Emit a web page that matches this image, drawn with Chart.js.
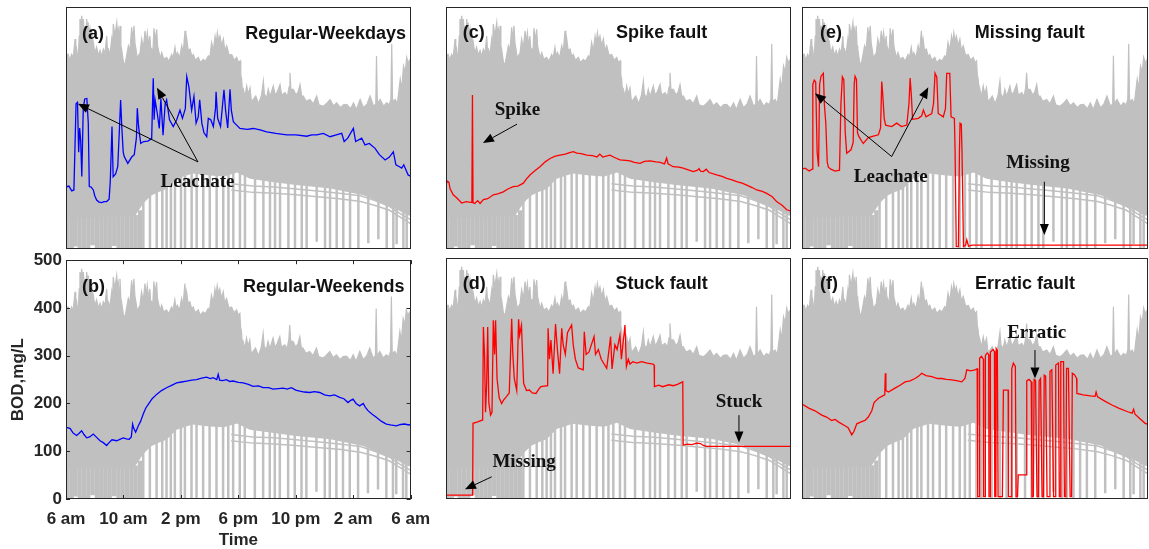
<!DOCTYPE html>
<html>
<head>
<meta charset="utf-8">
<script src="https://cdn.jsdelivr.net/npm/chart.js@4.4.1/dist/chart.umd.min.js"></script>
<style>
  body { margin: 0; background: #fff; }
  #wrap { position: relative; width: 1149px; height: 549px; overflow: hidden; background: #fff; }
  canvas { position: absolute; }
</style>
</head>
<body>
<div id="wrap"></div>
<script>
// hours after 6 am, BOD in mg/L
const timeLabels = ["6 am", "10 am", "2 pm", "6 pm", "10 pm", "2 am", "6 am"];

// grey cloud of all the historical days: top edge, bottom edge, loose low lines, drop-outs
const cloudTop = [[0,398],[0.08,402],[0.16,402],[0.25,390],[0.39,402],[0.5,395],[0.63,434],[0.68,405],[0.74,413],
  [0.8,395],[0.86,402],[0.92,440],[0.97,475],[1.03,460],[1.09,482],[1.15,462],[1.21,475],[1.27,445],[1.32,461],
  [1.38,440],[1.44,475],[1.5,450],[1.55,468],[1.61,440],[1.67,454],[1.73,430],[1.79,451],[1.85,420],[1.9,427],
  [2,405],[2.13,417],[2.25,400],[2.37,410],[2.48,398],[2.6,413],[2.72,405],[2.83,440],[2.89,410],[2.95,413],[3.05,400],
  [3.18,434],[3.24,415],[3.29,465],[3.4,440],[3.53,468],[3.58,445],[3.64,454],[3.7,430],[3.76,461],[3.82,420],
  [3.87,413],[4,385],[4.11,382],[4.22,400],[4.34,420],[4.45,410],[4.57,458],[4.65,430],[4.73,461],[4.8,425],[4.87,413],
  [4.95,395],[5.03,399],[5.15,405],[5.26,434],[5.38,415],[5.5,451],[5.58,425],[5.66,447],[5.75,420],[5.84,440],
  [5.9,410],[5.96,413],[6.04,405],[6.12,456],[6.2,430],[6.31,454],[6.37,420],[6.42,413],[6.55,395],[6.66,406],
  [6.8,392],[7,396],[7.15,388],[7.35,402],[7.45,395],[7.58,417],[7.66,398],[7.75,406],[7.9,395],[8.05,420],[8.15,405],
  [8.28,451],[8.34,420],[8.4,434],[8.5,410],[8.63,413],[8.75,398],[8.86,402],[9,390],[9.21,396],[9.35,385],[9.55,392],
  [9.7,388],[9.9,399],[10,395],[10.13,427],[10.25,410],[10.37,440],[10.45,425],[10.53,447],[10.62,430],[10.71,440],
  [10.83,420],[10.95,434],[11.05,410],[11.18,420],[11.35,400],[11.53,402],[11.7,390],[11.88,396],[12,385],[12.11,389],
  [12.16,360],[12.22,351],[12.28,325],[12.34,330],[12.45,315],[12.57,337],[12.68,320],[12.8,333],[12.9,305],
  [13.03,309],[13.2,316],[13.4,300],[13.6,318],[13.73,347],[13.8,320],[13.95,312],[14.07,330],[14.2,315],[14.42,337],
  [14.55,318],[14.7,325],[14.89,340],[15,318],[15.24,323],[15.4,315],[15.52,335],[15.58,364],[15.65,330],[15.82,330],
  [16,318],[16.15,325],[16.28,340],[16.4,315],[16.51,316],[16.7,305],[16.97,309],[17.2,300],[17.44,316],[17.6,298],
  [17.9,295],[18.1,300],[18.37,309],[18.6,296],[18.83,302],[19.1,292],[19.3,298],[19.53,299],[19.8,290],[20,302],
  [20.2,288],[20.46,309],[20.7,292],[20.95,300],[21.15,316],[21.4,295],[21.55,300],[21.6,399],[21.66,300],[21.85,309],
  [22.1,295],[22.3,302],[22.5,298],[22.6,310],[22.66,424],[22.72,305],[22.9,309],[23.05,300],[23.25,351],[23.35,330],
  [23.48,378],[23.6,365],[23.7,396],[23.8,385],[23.95,392],[24,390]];
const cloudLow = [[0,64],[4.8,68],[5.4,95],[5.9,110],[6.4,117],[7,124],[7.7,145],[8.8,156],[10,152],[11,150],
  [11.9,158],[12.8,145],[14.2,139],[16,132],[18.4,125],[20.7,111],[22.3,90],[23,82],[23.7,70],[24,68]];
const lowLineA = [[11.5,135],[13,130],[14.5,128],[16,124],[17.5,120],[19,115],[20.5,110],[21.5,100],[22.5,88],[23.3,72],[24,60]];
const lowLineB = [[11.5,122],[13,117],[14.5,115],[16,112],[17.5,108],[19,104],[20.5,98],[21.5,90],[22.5,80],[23.3,65],[24,52]];
// [hour, top, bottom] of the sensor drop-outs, dense ones in the early morning
const dropsEarly = [[0.1,70,0],[0.4,70,0],[0.65,70,5],[0.95,70,0],[1.25,70,0],[1.55,70,0],[1.85,70,8],[2.15,70,0],
  [2.45,70,0],[2.75,70,0],[3.05,70,0],[3.35,70,6],[3.65,70,0],[3.95,70,0],[4.25,70,0],[4.55,70,0],[4.85,70,0],
  [5.15,80,0]];
const dropsLate = [[5.38,100,0],[5.84,112,0],[6.31,120,0],[6.7,122,0],[7,128,0],[7.3,135,0],[7.58,145,0],[8,150,0],
  [8.28,152,0],[8.74,158,0],[9.09,156,0],[9.55,155,0],[10,155,0],[10.48,153,0],[10.94,152,0],[11.3,155,0],
  [11.64,160,0],[12.1,160,0],[12.45,152,0],[13.15,148,0],[13.73,145,0],[14.19,142,0],[14.54,140,0],[14.89,140,0],
  [15.47,136,0],[15.93,135,0],[16.4,133,0],[16.74,132,0],[17.44,130,15],[18.02,128,0],[18.37,128,0],[18.83,125,0],
  [19.29,122,0],[19.76,118,0],[20.34,115,0],[21.03,110,12],[21.73,100,20],[22.31,93,0],[22.77,88,0],[23,85,10],
  [23.47,78,0],[23.7,72,0]];

// (a) regular weekday with leachate peaks
const weekdays = [[0,128],[0.2,130],[0.4,120],[0.55,122],[0.7,300],[0.8,303],[0.88,200],[0.95,250],[1.02,225],[1.1,150],
  [1.2,290],[1.3,310],[1.45,311],[1.55,260],[1.62,129],[1.75,128],[1.9,122],[2,110],[2.13,101],[2.3,97],[2.48,96],
  [2.65,98],[2.83,98],[3,103],[3.08,140],[3.2,253],[3.28,149],[3.45,155],[3.6,170],[3.72,250],[3.8,308],[3.88,253],
  [3.98,200],[4.05,191],[4.3,177],[4.57,190],[4.75,195],[4.9,230],[4.96,291],[5.03,260],[5.1,240],[5.2,218],[5.4,222],
  [5.7,223],[5.96,228],[6.02,300],[6.07,353],[6.13,267],[6.2,308],[6.35,280],[6.49,249],[6.6,311],[6.75,235],[6.9,300],
  [7,308],[7.2,267],[7.46,253],[7.7,267],[7.93,287],[8.1,270],[8.3,290],[8.4,356],[8.55,335],[8.74,287],[8.9,315],
  [9.05,260],[9.2,273],[9.3,308],[9.45,260],[9.6,240],[9.79,232],[9.9,270],[10.07,267],[10.25,253],[10.4,290],
  [10.44,325],[10.55,270],[10.75,253],[10.99,329],[11.1,287],[11.25,250],[11.41,330],[11.5,287],[11.64,263],
  [11.8,258],[12.1,249],[12.6,247],[13.03,249],[13.5,246],[13.96,242],[14.6,239],[15.35,236],[16,236],[16.74,233],
  [17.1,236],[17.44,236],[17.9,239],[18.37,232],[18.8,236],[19.18,239],[19.35,222],[19.6,229],[19.99,249],[20.15,222],
  [20.57,229],[20.8,215],[21.1,218],[21.5,208],[21.8,195],[22.2,184],[22.5,190],[22.77,201],[22.95,174],[23.2,170],
  [23.35,167],[23.5,174],[23.8,153],[24,150]];

// (b) regular weekend
const weekends = [[0,150],[0.28,148],[0.5,138],[0.74,133],[0.9,137],[1.09,143],[1.25,135],[1.44,128],[1.65,130],[1.9,136],
  [2.1,130],[2.37,122],[2.6,118],[2.83,112],[3,118],[3.2,124],[3.53,122],[3.75,125],[3.99,128],[4.2,126],[4.4,125],
  [4.55,130],[4.64,157],[4.72,148],[4.85,140],[5.03,153],[5.2,163],[5.38,178],[5.55,190],[5.73,198],[6,210],[6.31,219],
  [6.65,227],[7,233],[7.35,238],[7.7,243],[8.05,245],[8.4,247],[8.75,249],[9.09,250],[9.45,253],[9.79,255],[10.05,252],
  [10.25,254],[10.5,250],[10.6,261],[10.7,249],[10.9,248],[11.18,250],[11.4,246],[11.64,247],[12,244],[12.34,243],
  [12.7,240],[13.03,236],[13.4,237],[13.73,233],[14.1,233],[14.42,230],[14.8,231],[15.12,232],[15.4,230],[15.7,233],
  [16,228],[16.28,226],[16.6,224],[16.97,223],[17.3,225],[17.67,223],[18,218],[18.37,216],[18.7,218],[19.06,213],
  [19.35,210],[19.64,202],[19.8,206],[19.99,209],[20.2,200],[20.45,195],[20.7,200],[20.85,192],[21.03,185],[21.3,178],
  [21.61,171],[21.95,163],[22.31,157],[22.6,155],[23,153],[23.3,156],[23.58,157],[23.88,155],[24,156]];

// (c) spike fault
const spikeFault = [[0,133],[0.1,140],[0.2,138],[0.28,125],[0.5,112],[0.74,106],[1.09,95],[1.4,98],[1.8,96],[1.84,318],
  [1.88,96],[2,94],[2.2,100],[2.37,94],[2.6,102],[2.9,104],[3.29,112],[3.6,114],[3.99,118],[4.3,124],[4.68,129],[5,130],
  [5.38,136],[5.6,145],[5.84,153],[6.2,162],[6.54,170],[6.9,180],[7.24,187],[7.6,192],[7.93,194],[8.3,196],[8.6,199],
  [8.86,201],[9.1,198],[9.4,197],[9.79,194],[10.2,193],[10.5,190],[10.7,196],[10.9,190],[11.4,194],[11.8,188],
  [12.1,184],[12.5,183],[12.8,182],[13.1,179],[13.5,177],[13.8,181],[14.2,182],[14.6,180],[14.9,179],[15.2,176],
  [15.35,188],[15.45,176],[15.8,170],[16.2,169],[16.5,167],[16.9,163],[17.2,160],[17.5,163],[17.6,166],[17.7,161],
  [17.9,160],[18.1,165],[18.3,158],[18.83,153],[19.2,150],[19.53,146],[19.9,143],[20.22,139],[20.6,136],[20.92,132],
  [21.3,127],[21.62,122],[22,119],[22.31,115],[22.7,108],[23,98],[23.4,90],[23.7,81],[24,78]];

// (d) missing at start, then stuck at the end
const stuckFault = [[0,8],[1.85,8],[1.88,157],[2.2,160],[2.55,164],[2.6,357],[2.68,300],[2.75,180],[2.83,240],[2.9,357],
  [2.98,200],[3.1,174],[3.2,180],[3.29,371],[3.38,300],[3.45,371],[3.55,250],[3.7,210],[3.87,198],[4,205],[4.22,213],
  [4.4,220],[4.57,374],[4.65,300],[4.75,250],[4.92,225],[5.05,373],[5.12,340],[5.25,360],[5.4,240],[5.6,225],[5.8,226],
  [6,220],[6.26,219],[6.45,228],[6.6,233],[7.07,235],[7.1,354],[7.2,290],[7.3,330],[7.45,260],[7.62,363],[7.75,310],
  [7.9,260],[8.05,354],[8.15,320],[8.3,300],[8.45,345],[8.74,361],[8.85,320],[9,290],[9.2,272],[9.55,268],[9.62,347],
  [9.75,300],[9.95,305],[10.3,337],[10.4,300],[10.6,310],[10.8,290],[11.18,271],[11.3,300],[11.45,337],[11.55,270],
  [11.75,320],[11.9,310],[12.1,340],[12.2,290],[12.45,361],[12.55,275],[12.68,290],[12.8,280],[13,285],[13.27,282],
  [13.6,285],[14,282],[14.4,280],[14.48,278],[14.5,233],[14.8,236],[15.07,233],[15.5,237],[15.8,235],[16.1,238],
  [16.47,243],[16.5,112],[16.8,114],[17.1,113],[17.44,116],[17.7,115],[17.9,111],[18.14,109],[24,109]];

// (e) leachate then missing
const missingFault = [[0,165],[0.21,167],[0.5,161],[0.7,165],[0.75,340],[0.85,349],[0.95,345],[1.05,200],[1.15,170],
  [1.22,340],[1.32,357],[1.48,363],[1.55,300],[1.65,260],[1.75,180],[1.83,169],[2,165],[2.29,161],[2.6,163],[2.7,300],
  [2.8,356],[2.9,350],[3,240],[3.1,198],[3.4,205],[3.55,220],[3.62,340],[3.68,357],[3.78,350],[3.85,240],[3.95,232],
  [4.25,218],[4.6,230],[4.95,233],[5.3,236],[5.45,250],[5.53,346],[5.6,320],[5.7,270],[5.8,256],[6.22,253],[6.57,260],
  [6.9,253],[7.27,256],[7.42,300],[7.5,353],[7.58,320],[7.67,268],[8.07,270],[8.3,275],[8.42,287],[8.6,273],[9,280],
  [9.12,300],[9.23,363],[9.35,355],[9.45,280],[9.8,273],[9.95,290],[10.04,363],[10.25,363],[10.34,273],[10.57,270],
  [10.62,200],[10.7,5],[10.85,5],[10.92,200],[10.96,260],[11.05,258],[11.1,200],[11.2,5],[11.35,8],[11.43,19],
  [11.55,6],[11.8,8],[24,8]];

// (f) erratic fault
const erraticFault = [[0,197],[0.5,188],[0.9,183],[1.37,174],[1.7,170],[2.06,163],[2.3,165],[2.52,160],[2.98,152],
  [3.2,148],[3.45,133],[3.6,140],[3.8,156],[4.1,160],[4.37,163],[4.6,170],[4.84,183],[5,200],[5.3,209],[5.6,214],
  [5.74,216],[5.78,261],[5.82,225],[6,222],[6.45,230],[6.8,236],[7.15,243],[7.5,245],[7.84,250],[8.1,255],[8.3,261],
  [8.6,256],[9,254],[9.4,250],[9.7,250],[10,248],[10.39,247],[10.8,245],[11.08,243],[11.3,250],[11.43,268],[11.7,266],
  [12,268],[12.15,270],[12.19,5],[12.3,5],[12.32,292],[12.45,296],[12.58,290],[12.6,5],[12.7,5],[12.72,298],[12.85,303],
  [12.95,300],[12.97,5],[13.05,5],[13.07,305],[13.25,310],[13.35,306],[13.37,5],[13.45,5],[13.47,312],[13.55,308],
  [13.6,5],[13.9,5],[13.97,226],[14.3,226],[14.32,5],[14.5,5],[14.55,270],[14.66,282],[14.8,275],[14.85,5],[14.95,5],
  [15,50],[15.55,50],[15.59,245],[15.75,248],[15.9,243],[15.95,5],[16.05,5],[16.1,248],[16.2,246],[16.3,5],[16.4,5],
  [16.45,245],[16.55,250],[16.65,5],[16.75,5],[16.8,257],[16.9,255],[17,5],[17.15,5],[17.2,265],[17.33,268],[17.45,5],
  [17.55,5],[17.6,278],[17.79,282],[17.85,5],[17.92,5],[17.95,285],[18.14,285],[18.2,5],[18.3,5],[18.35,271],[18.48,271],
  [18.6,5],[18.7,5],[18.75,261],[18.9,258],[19.05,250],[19.07,219],[19.5,216],[20,214],[20.33,213],[20.4,222],
  [20.5,212],[21,203],[21.5,195],[22,188],[22.6,181],[22.9,178],[23,186],[23.1,176],[23.5,165],[23.8,157],[24,155]];

const GREY = "#c0c0c0";
const SANS = '"Liberation Sans", Arial, sans-serif';
const SERIF = '"Liberation Serif", "Times New Roman", serif';

function xy(list) {
  return list.map(p => ({ x: p[0], y: p[1] }));
}

function dropSegments(list) {
  let out = [];
  list.forEach(d => {
    out.push({ x: d[0], y: d[1] }, { x: d[0], y: d[2] }, { x: d[0], y: null });
  });
  return out;
}

// text + arrows, placed in data units (hour, mg/L)
const panels = [
  { id: "a", left: 66, top: 7, w: 345, h: 242, series: weekdays, color: "#0000ff",
    tag: [1.11, 445], title: "Regular-Weekdays", titlePos: [23.65, 445], titleAlign: "right",
    notes: [{ text: "Leachate", at: [9.15, 139] }],
    arrows: [[9.18, 180, 0.83, 300], [9.18, 180, 6.33, 333]] },
  { id: "b", left: 0, top: 246, w: 440, h: 305, series: weekends, color: "#0000ff", axes: true,
    tag: [1.11, 444], title: "Regular-Weekends", titlePos: [23.58, 444], titleAlign: "right",
    notes: [], arrows: [] },
  { id: "c", left: 446, top: 7, w: 345, h: 242, series: spikeFault, color: "#ff0000",
    tag: [1.16, 446], title: "Spike fault", titlePos: [15.0, 446], titleAlign: "center",
    notes: [{ text: "Spike", at: [4.97, 287] }],
    arrows: [[4.94, 258, 2.57, 219]] },
  { id: "d", left: 446, top: 258, w: 345, h: 241, series: stuckFault, color: "#ff0000",
    tag: [1.16, 447], title: "Stuck fault", titlePos: [15.0, 447], titleAlign: "center",
    notes: [{ text: "Stuck", at: [20.38, 202] }, { text: "Missing", at: [5.43, 77] }],
    arrows: [[20.38, 174, 20.38, 117], [3.18, 46, 1.32, 20]] },
  { id: "e", left: 802, top: 7, w: 346, h: 242, series: missingFault, color: "#ff0000",
    tag: [1.25, 446], title: "Missing fault", titlePos: [15.8, 446], titleAlign: "center",
    notes: [{ text: "Leachate", at: [6.16, 149] }, { text: "Missing", at: [16.37, 177] }],
    arrows: [[6.22, 191, 0.9, 322], [6.22, 191, 8.76, 334], [16.81, 139, 16.81, 29]] },
  { id: "f", left: 802, top: 258, w: 346, h: 241, series: erraticFault, color: "#ff0000",
    tag: [1.25, 447], title: "Erratic fault", titlePos: [15.47, 447], titleAlign: "center",
    notes: [{ text: "Erratic", at: [16.28, 344] }],
    arrows: [[16.16, 309, 16.16, 250]] }
];

function arrow(ctx, x1, y1, x2, y2) {
  let a = Math.atan2(y2 - y1, x2 - x1);
  let len = 11, half = 4.5;
  let bx = x2 - len * Math.cos(a), by = y2 - len * Math.sin(a);
  ctx.beginPath();
  ctx.moveTo(x1, y1);
  ctx.lineTo(bx, by);
  ctx.stroke();
  ctx.beginPath();
  ctx.moveTo(x2, y2);
  ctx.lineTo(bx + half * Math.sin(a), by - half * Math.cos(a));
  ctx.lineTo(bx - half * Math.sin(a), by + half * Math.cos(a));
  ctx.closePath();
  ctx.fill();
}

const deco = {
  id: "deco",
  afterDraw(chart) {
    const p = chart.options.plugins.deco;
    const ctx = chart.ctx;
    const area = chart.chartArea;
    const sx = chart.scales.x, sy = chart.scales.y;
    ctx.save();
    // axes box
    ctx.strokeStyle = "#262626";
    ctx.lineWidth = 1;
    ctx.strokeRect(Math.round(area.left) + 0.5, Math.round(area.top) + 0.5,
      Math.round(area.right - area.left) - 1, Math.round(area.bottom - area.top) - 1);
    if (p.axes) {
      ctx.beginPath();
      sx.ticks.forEach(t => {
        let x = Math.round(sx.getPixelForValue(t.value)) + 0.5;
        ctx.moveTo(x, area.bottom); ctx.lineTo(x, area.bottom - 4);
        ctx.moveTo(x, area.top); ctx.lineTo(x, area.top + 4);
      });
      sy.ticks.forEach(t => {
        let y = Math.round(sy.getPixelForValue(t.value)) + 0.5;
        ctx.moveTo(area.left, y); ctx.lineTo(area.left + 4, y);
        ctx.moveTo(area.right, y); ctx.lineTo(area.right - 4, y);
      });
      ctx.stroke();
    }
    ctx.fillStyle = "#111";
    ctx.textBaseline = "middle";
    ctx.font = "bold 18px " + SANS;
    ctx.textAlign = "left";
    ctx.fillText("(" + p.id + ")", sx.getPixelForValue(p.tag[0]), sy.getPixelForValue(p.tag[1]));
    ctx.textAlign = p.titleAlign;
    ctx.fillText(p.title, sx.getPixelForValue(p.titlePos[0]), sy.getPixelForValue(p.titlePos[1]));
    ctx.font = "bold 19px " + SERIF;
    ctx.textAlign = "center";
    p.notes.forEach(n => {
      ctx.fillText(n.text, sx.getPixelForValue(n.at[0]), sy.getPixelForValue(n.at[1]));
    });
    ctx.strokeStyle = "#000";
    ctx.fillStyle = "#000";
    p.arrows.forEach(a => {
      arrow(ctx, sx.getPixelForValue(a[0]), sy.getPixelForValue(a[1]),
        sx.getPixelForValue(a[2]), sy.getPixelForValue(a[3]));
    });
    ctx.restore();
  }
};

const wrap = document.getElementById("wrap");
const tickFont = { family: SANS, weight: "bold", size: 17 };

panels.forEach(p => {
  const cv = document.createElement("canvas");
  cv.width = p.w;
  cv.height = p.h;
  cv.style.left = p.left + "px";
  cv.style.top = p.top + "px";
  cv.style.width = p.w + "px";
  cv.style.height = p.h + "px";
  wrap.appendChild(cv);

  const datasets = [
    { data: xy(cloudTop), borderColor: GREY, backgroundColor: GREY, borderWidth: 1.2, fill: "origin", order: 10 },
    { data: xy(cloudLow), borderColor: "rgba(0,0,0,0)", backgroundColor: "#ffffff", borderWidth: 0, fill: "origin", order: 9 },
    { data: xy(lowLineA), borderColor: GREY, borderWidth: 1.5, fill: false, order: 8 },
    { data: xy(lowLineB), borderColor: GREY, borderWidth: 1.5, fill: false, order: 8 },
    { data: dropSegments(dropsEarly), borderColor: GREY, borderWidth: 4.2, fill: false, spanGaps: false, order: 7 },
    { data: dropSegments(dropsLate), borderColor: GREY, borderWidth: 2.5, fill: false, spanGaps: false, order: 7 },
    { data: xy(p.series), borderColor: p.color, borderWidth: 1.3, fill: false, order: 1 }
  ];

  let scales;
  if (p.axes) {
    scales = {
      x: {
        type: "linear", min: 0, max: 24,
        afterFit: s => { s.height = 52; },
        grid: { display: false, drawTicks: false },
        border: { display: false },
        ticks: { stepSize: 4, padding: 10, color: "#262626", font: tickFont, maxRotation: 0, autoSkip: false,
          callback: v => timeLabels[v / 4] },
        title: { display: true, text: "Time", color: "#262626", font: tickFont, padding: { top: 0, bottom: 0 } }
      },
      y: {
        min: 0, max: 500,
        afterFit: s => { s.width = 66; },
        grid: { display: false, drawTicks: false },
        border: { display: false },
        ticks: { stepSize: 100, padding: 4, color: "#262626", font: tickFont },
        title: { display: true, text: "BOD,mg/L", color: "#262626", font: tickFont, padding: { top: 8, bottom: 0 } }
      }
    };
  } else {
    scales = {
      x: { type: "linear", min: 0, max: 24, display: false },
      y: { min: 0, max: 500, display: false }
    };
  }

  new Chart(cv, {
    type: "line",
    data: { datasets },
    options: {
      responsive: false,
      animation: false,
      devicePixelRatio: 1,
      layout: { padding: p.axes ? { left: 0, top: 12, right: 29, bottom: 0 } : 0 },
      elements: { point: { radius: 0 }, line: { tension: 0 } },
      scales,
      plugins: { legend: { display: false }, tooltip: { enabled: false }, deco: p }
    },
    plugins: [deco]
  });
});
</script>
</body>
</html>
